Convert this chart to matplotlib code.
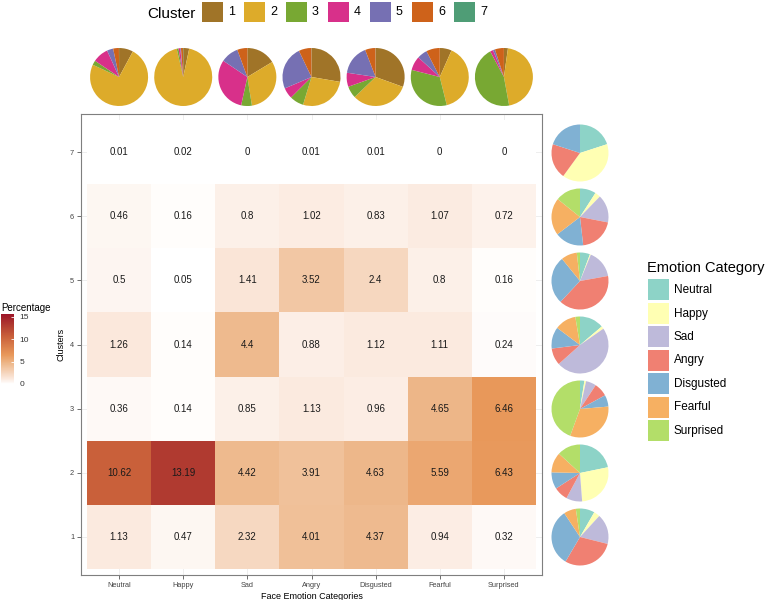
import numpy as np
import matplotlib
matplotlib.use("Agg")
import matplotlib.pyplot as plt
from matplotlib.colors import LinearSegmentedColormap, Normalize
from matplotlib.patches import Rectangle

plt.rcParams["font.family"] = ["Liberation Sans", "DejaVu Sans"]

emotions = ["Neutral", "Happy", "Sad", "Angry", "Disgusted", "Fearful", "Surprised"]
clusters = ["1", "2", "3", "4", "5", "6", "7"]

# percentage of faces per cluster (rows) and emotion (columns)
cluster1 = [1.13, 0.47, 2.32, 4.01, 4.37, 0.94, 0.32]
cluster2 = [10.62, 13.19, 4.42, 3.91, 4.63, 5.59, 6.43]
cluster3 = [0.36, 0.14, 0.85, 1.13, 0.96, 4.65, 6.46]
cluster4 = [1.26, 0.14, 4.4, 0.88, 1.12, 1.11, 0.24]
cluster5 = [0.5, 0.05, 1.41, 3.52, 2.4, 0.8, 0.16]
cluster6 = [0.46, 0.16, 0.8, 1.02, 0.83, 1.07, 0.72]
cluster7 = [0.01, 0.02, 0, 0.01, 0.01, 0, 0]

cluster_colors = ["#A07428", "#DDAB2A", "#78A833", "#D8308A", "#7670B3", "#CE621A", "#4F9D76"]
emotion_colors = ["#8DD3C7", "#FFFFB3", "#BEBADA", "#F08072", "#80B1D3", "#F6B062", "#B3DE69"]

mat = np.array([cluster1, cluster2, cluster3, cluster4, cluster5, cluster6, cluster7])

W, H = 768, 600
fig = plt.figure(figsize=(W / 100, H / 100), dpi=100)


def rect(l, t, r, b):
    return [l / W, 1 - b / H, (r - l) / W, (b - t) / H]


vmax = 15.6
stops = [(0, "#FFFFFF"), (1.13, "#FBE9DE"), (4.65, "#EDB688"), (6.5, "#E8985A"),
         (10.62, "#C9603A"), (13.19, "#B03A30"), (vmax, "#9C1528")]
cmap = LinearSegmentedColormap.from_list("pct", [(v / vmax, c) for v, c in stops])
norm = Normalize(0, vmax)

# heatmap
ax = fig.add_axes(rect(81, 114, 542, 575))
xe = np.arange(len(emotions) + 1) - 0.5
ye = np.arange(len(clusters) + 1) + 0.5
mesh = ax.pcolormesh(xe, ye, mat, cmap=cmap, norm=norm, zorder=1)
for i in range(mat.shape[0]):
    for j in range(mat.shape[1]):
        ax.text(j, i + 1, f"{mat[i, j]:g}", ha="center", va="center",
                fontsize=7, color="#1a1a1a", zorder=3)
ax.set_xlim(-0.594, 6.594)
ax.set_ylim(0.4, 7.6)
ax.set_xticks(range(len(emotions)))
ax.set_xticklabels(emotions)
ax.set_yticks(range(1, len(clusters) + 1))
ax.set_yticklabels(clusters)
ax.set_axisbelow(True)
ax.grid(True, color="#ebebeb", lw=0.6, zorder=0)
ax.tick_params(length=3, width=0.6, color="#555555", labelsize=5.3,
               labelcolor="#444444", pad=2)
for s in ax.spines.values():
    s.set_color("#7f7f7f")
    s.set_linewidth(0.8)
ax.set_xlabel("Face Emotion Categories", fontsize=6.5, labelpad=2)
ax.set_ylabel("Clusters", fontsize=6.5, labelpad=3)

# pies above each emotion column (share of each cluster)
for j in range(len(emotions)):
    cx = 87 + 64.14 * (j + 0.5)
    cy = 77
    pa = fig.add_axes(rect(cx - 29, cy - 29, cx + 29, cy + 29))
    pa.pie(mat[:, j], colors=cluster_colors, startangle=90, counterclock=False,
           wedgeprops=dict(linewidth=0))
    pa.set_xlim(-1, 1)
    pa.set_ylim(-1, 1)
    pa.axis("off")

# pies right of each cluster row (share of each emotion)
for i in range(len(clusters)):
    cx = 580
    cy = 569 - 64 * (i + 0.5)
    pa = fig.add_axes(rect(cx - 28.5, cy - 28.5, cx + 28.5, cy + 28.5))
    pa.pie(mat[i, :], colors=emotion_colors, startangle=90, counterclock=False,
           wedgeprops=dict(linewidth=0))
    pa.set_xlim(-1, 1)
    pa.set_ylim(-1, 1)
    pa.axis("off")

# cluster legend on top
fig.text(147 / W, 1 - 14 / H, "Cluster", fontsize=11, va="center", ha="left")
for k, (lab, col) in enumerate(zip(clusters, cluster_colors)):
    x0 = 202 + 42 * k
    fig.add_artist(Rectangle((x0 / W, 1 - 22 / H), 21 / W, 20 / H,
                             transform=fig.transFigure, color=col, lw=0))
    fig.text((x0 + 26) / W, 1 - 12 / H, lab, fontsize=9, va="center", ha="left")

# emotion legend on right
fig.text(647 / W, 1 - 268 / H, "Emotion Category", fontsize=10.5, va="center", ha="left")
for k, (lab, col) in enumerate(zip(emotions, emotion_colors)):
    y0 = 279 + 23.5 * k
    fig.add_artist(Rectangle((648 / W, 1 - (y0 + 21) / H), 21 / W, 21 / H,
                             transform=fig.transFigure, color=col, lw=0))
    fig.text(674 / W, 1 - (y0 + 11) / H, lab, fontsize=8.5, va="center", ha="left")

# colorbar
cax = fig.add_axes(rect(1, 314, 14, 384))
cb = fig.colorbar(mesh, cax=cax)
cb.outline.set_visible(False)
cb.set_ticks([0, 5, 10, 15])
cax.tick_params(direction="in", length=2.5, width=0.6, color="white",
                labelsize=6, labelcolor="#333333", pad=4)
fig.text(1 / W, 1 - 308 / H, "Percentage", fontsize=7, va="center", ha="left")

fig.savefig("out.png", dpi=100)
